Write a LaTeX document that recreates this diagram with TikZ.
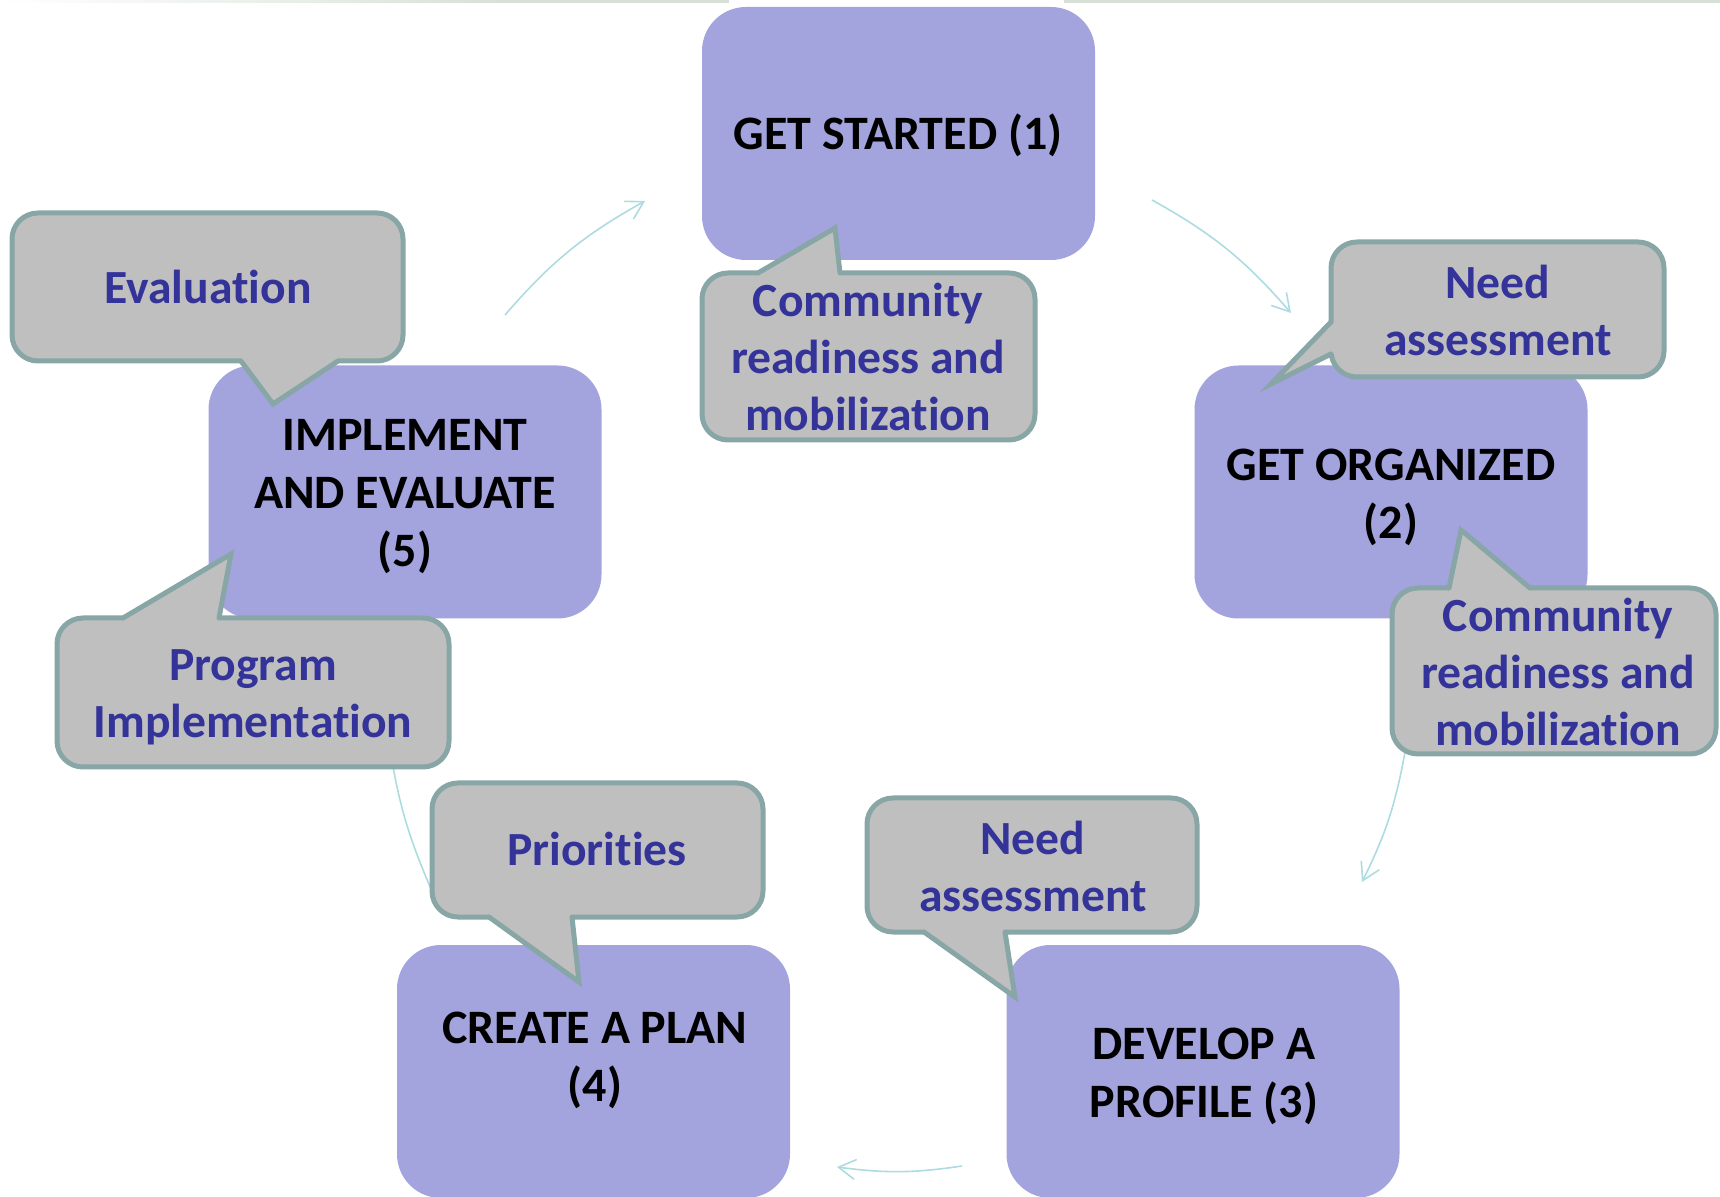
\documentclass[tikz,border=0pt]{standalone}
\usepackage{fontspec}
\setmainfont{Carlito}[Ligatures=NoCommon]
\usetikzlibrary{arrows.meta}
\definecolor{boxfill}{RGB}{163,163,222}
\definecolor{calfill}{RGB}{191,191,191}
\definecolor{calline}{RGB}{136,166,166}
\definecolor{caltext}{RGB}{51,51,153}
\definecolor{arrowc}{RGB}{172,220,224}
\definecolor{bandc}{RGB}{214,224,214}
\tikzset{
  stepbox/.style={fill=boxfill, draw=none, rounded corners=22pt, minimum width=196.5pt, minimum height=126.5pt, inner sep=0pt},
  callrect/.style={fill=calfill, draw=calline, line width=2.5pt, rounded corners=13pt, inner sep=0pt},
  ptrfill/.style={fill=calfill},
  ptrline/.style={draw=calline, line width=2.5pt, line join=miter, line cap=round},
  boxtext/.style={font=\fontsize{24}{29}\selectfont\bfseries, align=center, text=black, inner sep=0pt},
  caltxt/.style={font=\fontsize{23.8}{28.5}\selectfont\bfseries, text=caltext, align=center, inner sep=0pt},
  cyc/.style={draw=arrowc, line width=0.8pt, -{Straight Barb[length=8.5pt,width=10pt]}}
}
\begin{document}
\begin{tikzpicture}[x=0.5pt,y=-0.5pt]
\useasboundingbox (0,0) rectangle (1720,1197);
% top band
\shade[left color=white, right color=bandc] (0,0) rectangle (520,3);
\fill[bandc] (520,0) rectangle (729,3);
\fill[bandc] (1064,0) rectangle (1720,3);
% cycle arrows
\coordinate (a1s) at (505,315); \coordinate (a1e) at (645,201);
\coordinate (a2s) at (1152,200); \coordinate (a2e) at (1291,313);
\coordinate (a3s) at (1405,752); \coordinate (a3e) at (1362,882);
\coordinate (a4s) at (962,1166); \coordinate (a4e) at (837,1167);
\coordinate (a5s) at (436,900); \coordinate (a5e) at (388,735);
\draw[cyc] (a1s) to[bend left=10] (a1e);
\draw[cyc] (a2s) to[bend left=10] (a2e);
\draw[cyc] (a3s) to[bend left=8] (a3e);
\draw[cyc] (a4s) to[bend left=8] (a4e);
\draw[cyc] (a5s) to[bend left=8] (a5e);
% step boxes
\node[stepbox] (b1) at (898.5,133.5) {};
\node[stepbox] (b2) at (1391,492) {};
\node[stepbox] (b3) at (1203,1071.5) {};
\node[stepbox] (b4) at (593.5,1071.5) {};
\node[stepbox] (b5) at (405,492) {};
\node[boxtext, anchor=base] (t1) at (898,150) {GET STARTED (1)};
\node[boxtext] (t2) at (1391,497) {GET ORGANIZED\\(2)};
\node[boxtext] (t3) at (1204,1076) {DEVELOP A\\PROFILE (3)};
\node[boxtext] (t4) at (595,1060) {CREATE A PLAN\\(4)};
\node[boxtext] (t5) at (405,496.5) {IMPLEMENT\\AND EVALUATE\\(5)};
% callouts
% C1
\node[callrect, minimum width=166.5pt, minimum height=83.5pt] (c1) at (868.5,356.5) {};
\fill[ptrfill] (758,279) -- (758,273) -- (835,228) -- (840,273) -- (840,279) -- cycle;
\draw[ptrline] (758,273) -- (835,228) -- (840,273);
% C2a
\node[callrect, minimum width=166.5pt, minimum height=67.5pt] (c2a) at (1497.5,309.5) {};
\fill[ptrfill] (1337,322) -- (1331,322) -- (1271,384) -- (1331,354) -- (1337,354) -- cycle;
\draw[ptrline] (1331,322) -- (1271,384) -- (1331,354);
% C2b
\node[callrect, minimum width=162pt, minimum height=83pt] (c2b) at (1554,671) {};
\fill[ptrfill] (1449,594) -- (1449,588) -- (1461,530) -- (1530,588) -- (1530,594) -- cycle;
\draw[ptrline] (1449,588) -- (1461,530) -- (1530,588);
% C5a
\node[callrect, minimum width=195.5pt, minimum height=74pt] (c5a) at (207.5,287) {};
\fill[ptrfill] (241,355) -- (241,361) -- (273,404) -- (338,361) -- (338,355) -- cycle;
\draw[ptrline] (241,361) -- (273,404) -- (338,361);
% C5b
\node[callrect, minimum width=196pt, minimum height=74.5pt] (c5b) at (253,692.5) {};
\fill[ptrfill] (123,624) -- (123,618) -- (231,554) -- (219,618) -- (219,624) -- cycle;
\draw[ptrline] (123,618) -- (231,554) -- (219,618);
% C4
\node[callrect, minimum width=165.5pt, minimum height=67pt] (c4) at (597.5,850) {};
\fill[ptrfill] (489,911) -- (489,917) -- (579,982) -- (572,917) -- (572,911) -- cycle;
\draw[ptrline] (489,917) -- (579,982) -- (572,917);
% C3
\node[callrect, minimum width=165pt, minimum height=67pt] (c3) at (1032,865) {};
\fill[ptrfill] (924,926) -- (924,932) -- (1015,997) -- (1005,932) -- (1005,926) -- cycle;
\draw[ptrline] (924,932) -- (1015,997) -- (1005,932);
% callout texts
\node[caltxt] (ct1) at (868,357) {Community\\readiness and\\mobilization};
\node[caltxt] (ct2a) at (1498,310.5) {Need\\assessment};
\node[caltxt] (ct2b) at (1558,672) {Community\\readiness and\\mobilization};
\node[caltxt, anchor=base] (ct5a) at (208,304) {Evaluation};
\node[caltxt] (ct5b) at (253,697.5) {Program\\Implementation};
\node[caltxt, anchor=base] (ct4) at (597,865) {Priorities};
\node[caltxt] (ct3) at (1033,866) {Need\\assessment};
\end{tikzpicture}
\end{document}
